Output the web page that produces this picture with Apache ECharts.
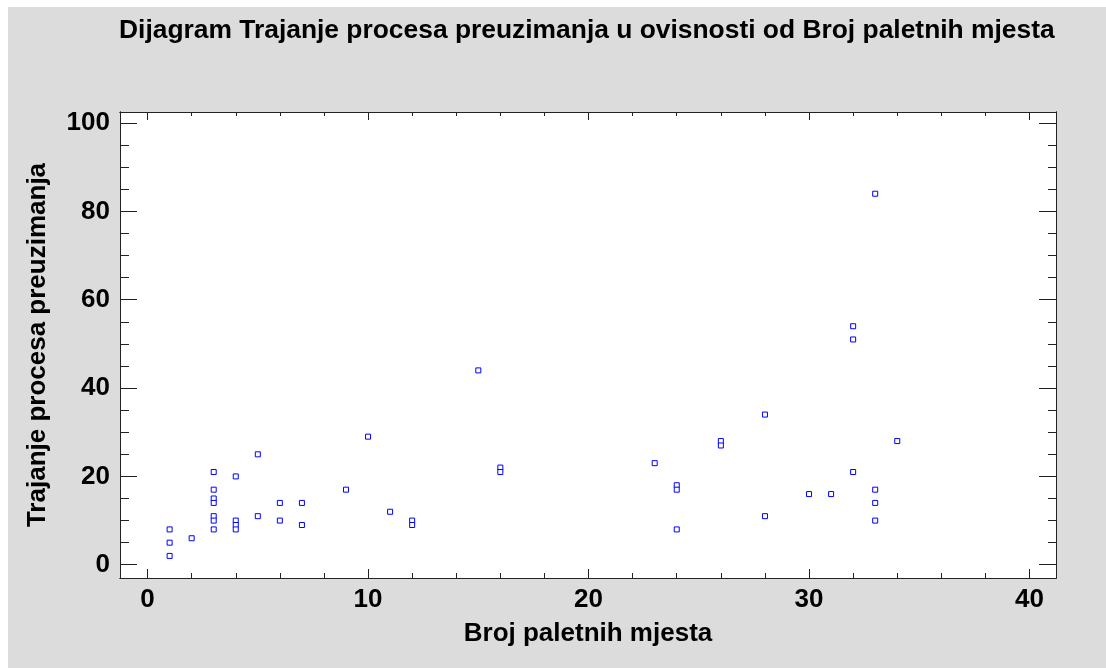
<!DOCTYPE html>
<html>
<head>
<meta charset="utf-8">
<title>Dijagram</title>
<script src="https://cdn.jsdelivr.net/npm/echarts@6/dist/echarts.min.js"></script>
<style>
  html, body { margin: 0; padding: 0; background: #ffffff; }
  #chart { width: 1106px; height: 668px; }
</style>
</head>
<body>
<div id="chart"></div>
<script>
// Broj paletnih mjesta (x) and Trajanje procesa preuzimanja (y), one pair per observation
const brojPaletnihMjesta = [1, 1, 1, 2, 3, 3, 3, 3, 3, 3, 3, 4, 4, 4, 4, 5, 5, 6, 6, 7, 7, 9, 10, 11, 12, 12,
  15, 16, 16, 23, 24, 24, 24, 26, 26, 28, 28, 30, 31, 32, 32, 32, 33, 33, 33, 33, 34];
const trajanjeProcesa = [8, 5, 2, 6, 21, 17, 15, 14, 11, 10, 8, 20, 10, 9, 8, 25, 11, 14, 10, 14, 9, 17, 29, 12, 10, 9,
  44, 22, 21, 23, 18, 17, 8, 28, 27, 34, 11, 16, 16, 54, 51, 21, 84, 17, 14, 10, 28];

// Tick positions
const xMajorTicks = [0, 10, 20, 30, 40];
const xMinorTicks = [2, 4, 6, 8, 12, 14, 16, 18, 22, 24, 26, 28, 32, 34, 36, 38];
const yMajorTicks = [0, 20, 40, 60, 80, 100];
const yMinorTicks = [5, 10, 15, 25, 30, 35, 45, 50, 55, 65, 70, 75, 85, 90, 95];

const titleText = 'Dijagram Trajanje procesa preuzimanja u ovisnosti od Broj paletnih mjesta';
const xName = 'Broj paletnih mjesta';
const yName = 'Trajanje procesa preuzimanja';

const FONT = '"Liberation Sans", Arial, sans-serif';
const FONT_SIZE = 26;
const X_MIN = -1.25, X_MAX = 41.2;
const Y_MIN = -3, Y_MAX = 102.5;
const LINE = '#222222';

const points = brojPaletnihMjesta.map((x, i) => [x, trajanjeProcesa[i]]);

const boldText = { fontFamily: FONT, fontSize: FONT_SIZE, fontWeight: 'bold', color: '#000000' };

function xAxisDef(position, ticks, len, opts) {
  return Object.assign({
    type: 'value', position: position, min: X_MIN, max: X_MAX,
    axisLine: { show: true, onZero: false, lineStyle: { color: LINE, width: 1 } },
    axisTick: { show: true, inside: true, length: len, customValues: ticks, lineStyle: { color: LINE, width: 1 } },
    axisLabel: { show: false },
    splitLine: { show: false }
  }, opts || {});
}
function yAxisDef(position, ticks, len, opts) {
  return Object.assign({
    type: 'value', position: position, min: Y_MIN, max: Y_MAX,
    axisLine: { show: true, onZero: false, lineStyle: { color: LINE, width: 1 } },
    axisTick: { show: true, inside: true, length: len, customValues: ticks, lineStyle: { color: LINE, width: 1 } },
    axisLabel: { show: false },
    splitLine: { show: false }
  }, opts || {});
}

const chart = echarts.init(document.getElementById('chart'), null, { renderer: 'canvas' });

chart.setOption({
  animation: false,
  backgroundColor: '#ffffff',
  graphic: [{
    type: 'rect', z: -100, silent: true,
    shape: { x: 8, y: 7, width: 1098, height: 661 },
    style: { fill: '#dcdcdc' }
  }],
  title: {
    text: titleText,
    left: 114, top: 13,
    textStyle: Object.assign({}, boldText, { fontSize: 26.4 })
  },
  grid: {
    show: true, left: 120, top: 112, right: 50, bottom: 90,
    backgroundColor: '#ffffff', borderWidth: 0
  },
  xAxis: [
    xAxisDef('bottom', xMajorTicks, 9, {
      name: xName, nameLocation: 'middle', nameGap: 43,
      nameTextStyle: boldText,
      axisLabel: Object.assign({ show: true, customValues: xMajorTicks, margin: 9 }, boldText)
    }),
    xAxisDef('bottom', xMinorTicks, 5),
    xAxisDef('top', xMajorTicks, 8),
    xAxisDef('top', xMinorTicks, 4)
  ],
  yAxis: [
    yAxisDef('left', yMajorTicks, 17, {
      name: yName, nameLocation: 'middle', nameGap: 69,
      nameTextStyle: boldText,
      axisLabel: Object.assign({ show: true, customValues: yMajorTicks, margin: 10 }, boldText)
    }),
    yAxisDef('left', yMinorTicks, 9),
    yAxisDef('right', yMajorTicks, 17),
    yAxisDef('right', yMinorTicks, 8)
  ],
  series: [{
    type: 'scatter',
    xAxisIndex: 0, yAxisIndex: 0,
    data: points,
    symbol: 'rect',
    symbolSize: 5,
    itemStyle: { color: '#ffffff', borderColor: '#0000ff', borderWidth: 1, opacity: 1 }
  }]
});
</script>
</body>
</html>
